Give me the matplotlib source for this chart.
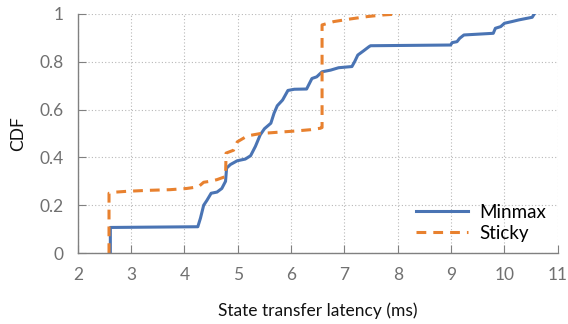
import matplotlib
matplotlib.use("Agg")
import matplotlib.pyplot as plt

minmax_x = [2.61, 2.61, 4.25, 4.30, 4.36, 4.42, 4.50, 4.61, 4.70, 4.77, 4.79, 4.86, 4.99, 5.14,
            5.24, 5.33, 5.42, 5.50, 5.62, 5.68, 5.74, 5.84, 5.94, 6.06, 6.29, 6.39, 6.48, 6.58,
            6.74, 6.89, 7.14, 7.19, 7.25, 7.36, 7.46, 7.49, 8.99, 9.02, 9.11, 9.16, 9.24, 9.79,
            9.83, 9.93, 10.00, 10.14, 10.27, 10.52, 10.56]
minmax_y = [0.0, 0.107, 0.11, 0.146, 0.20, 0.22, 0.25, 0.255, 0.27, 0.30, 0.355, 0.37, 0.386, 0.393,
            0.407, 0.446, 0.494, 0.52, 0.543, 0.585, 0.616, 0.64, 0.68, 0.685, 0.686, 0.73, 0.737, 0.758,
            0.765, 0.775, 0.78, 0.80, 0.828, 0.846, 0.863, 0.867, 0.87, 0.88, 0.884, 0.898, 0.912, 0.919,
            0.94, 0.947, 0.961, 0.968, 0.975, 0.986, 1.0]

sticky_x = [2.585, 2.585, 2.66, 2.91, 3.29, 3.73, 4.04, 4.26, 4.36, 4.48, 4.61, 4.77, 4.78, 4.92,
            4.99, 5.18, 5.43, 5.74, 6.06, 6.37, 6.55, 6.58, 6.58, 6.80, 7.11, 7.43, 7.74, 8.04]
sticky_y = [0.0, 0.25, 0.254, 0.258, 0.262, 0.265, 0.27, 0.277, 0.296, 0.30, 0.307, 0.32, 0.418, 0.43,
            0.465, 0.49, 0.50, 0.505, 0.51, 0.516, 0.522, 0.525, 0.954, 0.968, 0.979, 0.989, 0.996, 1.0]

x_ticks = [2, 3, 4, 5, 6, 7, 8, 9, 10, 11]
y_ticks = [0, 0.2, 0.4, 0.6, 0.8, 1.0]
y_tick_labels = ["0", "0.2", "0.4", "0.6", "0.8", "1"]

plt.rcParams['font.family'] = ['Lato', 'DejaVu Sans']

fig = plt.figure(figsize=(5.68, 3.24), dpi=100)
ax = fig.add_axes([0.137, 0.219, 0.845, 0.738])

ax.plot(minmax_x, minmax_y, color='#4a74b4', lw=2.2, label='Minmax', solid_joinstyle='round')
ax.plot(sticky_x, sticky_y, color='#e8812f', lw=2.2, ls=(0, (3.2, 2.3)), label='Sticky')

ax.set_xlim(2, 11)
ax.set_ylim(0, 1)
ax.set_xticks(x_ticks)
ax.set_yticks(y_ticks)
ax.set_yticklabels(y_tick_labels)

gray = '#808080'
for s in ['top', 'right']:
    ax.spines[s].set_visible(False)
for s in ['left', 'bottom']:
    ax.spines[s].set_color(gray)
    ax.spines[s].set_linewidth(1.0)
ax.tick_params(direction='in', length=6, color=gray, labelcolor='#707070', labelsize=12.5, pad=10)
ax.grid(True, ls=(0, (1, 2)), color='#b8b8b8', lw=0.8)

ax.set_xlabel('State transfer latency (ms)', fontsize=12.5, labelpad=14, color='#111111')
ax.set_ylabel('CDF', fontsize=12.5, labelpad=10, color='#111111')

leg = ax.legend(loc='lower right', frameon=False, fontsize=13.5, handlelength=2.8,
                borderaxespad=0.2, labelspacing=0.2, handletextpad=0.6)

fig.savefig('out.png', dpi=100)
